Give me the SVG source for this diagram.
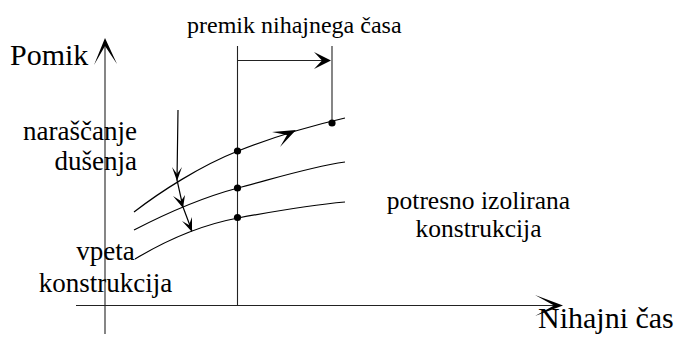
<svg xmlns="http://www.w3.org/2000/svg" width="678" height="347" viewBox="0 0 678 347">
<style>
.ln{fill:none;stroke:#222;stroke-width:1.1}
.cv{fill:none;stroke:#000;stroke-width:1.2}
.ah{fill:#000;stroke:none}
.dot{fill:#000}
</style>
<rect width="678" height="347" fill="#fff"/>
<g id="connectors">
  <line class="ln" x1="105" y1="44" x2="105" y2="334"/>
  <polygon class="ah" points="105,38 117,64 105,46 94,65"/>
  <line class="ln" x1="76" y1="305.5" x2="558" y2="305.5"/>
  <polygon class="ah" points="563,305.5 535,295 554,305.5 535,316"/>
  <line class="ln" x1="237.5" y1="46" x2="237.5" y2="305.5"/>
  <line class="ln" x1="332" y1="46" x2="332" y2="123"/>
  <line class="ln" x1="237.5" y1="60.5" x2="326" y2="60.5"/>
  <polygon class="ah" points="331,60.5 314,52 322,60.5 314,69"/>
  <path class="cv" d="M134,212 C160,192 200,166 238,151 S310,126 345,118"/>
  <path class="cv" d="M134,230 C165,214 200,198 238,188 S310,167 345,162"/>
  <path class="cv" d="M135,259 C160,244 195,226 238,218 S310,205 345,202"/>
  <polygon class="ah" points="296,130 272,132 287,135 280,147"/>
  <path class="cv" d="M178,110 L177,180 L183,207 L192,231"/>
  <polygon class="ah" points="177,181 172,167 177,174 182,167"/>
  <polygon class="ah" points="183,208 173,196 181,201 185,195"/>
  <polygon class="ah" points="192,232 182,221 189,225 192,217"/>
</g>
<g id="points">
  <circle class="dot" cx="237.5" cy="151" r="3.6"/>
  <circle class="dot" cx="237.5" cy="188" r="3.6"/>
  <circle class="dot" cx="237.5" cy="217.5" r="3.6"/>
  <circle class="dot" cx="332" cy="123" r="3.6"/>
</g>
<g font-family="Liberation Serif, DejaVu Serif, serif" fill="#000">
<g id="label-pomik"><text x="10" y="65" font-size="30">Pomik</text></g>
<g id="label-premik"><text x="187" y="33" font-size="24">premik nihajnega časa</text></g>
<g id="label-dusenje">
  <text x="137" y="140" font-size="27" text-anchor="end">naraščanje</text>
  <text x="137" y="170" font-size="27" text-anchor="end">dušenja</text>
</g>
<g id="label-vpeta">
  <text x="105.5" y="260" font-size="27" text-anchor="middle">vpeta</text>
  <text x="105.5" y="292" font-size="27" text-anchor="middle">konstrukcija</text>
</g>
<g id="label-izolirana">
  <text x="478.5" y="209" font-size="25.5" text-anchor="middle">potresno izolirana</text>
  <text x="478.5" y="237" font-size="25.5" text-anchor="middle">konstrukcija</text>
</g>
<g id="label-cas"><text x="538" y="328" font-size="30">Nihajni čas</text></g>
</g>
</svg>
